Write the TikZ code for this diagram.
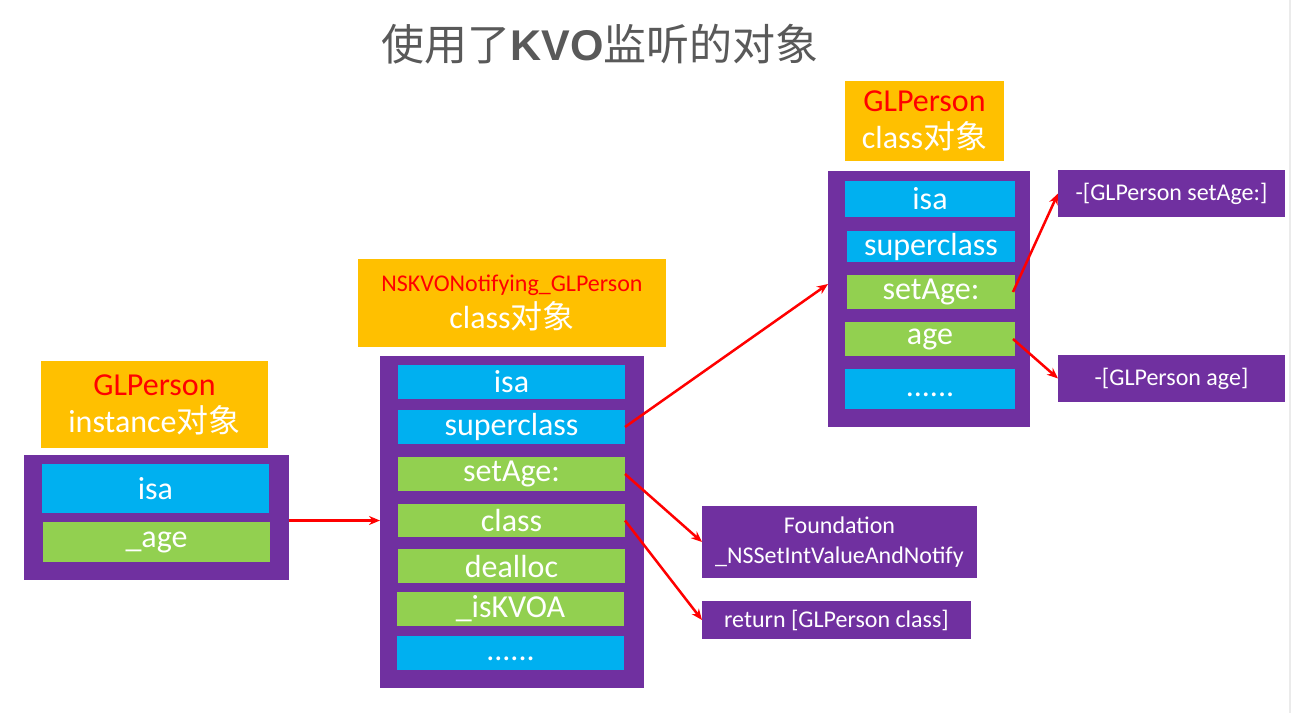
\documentclass[tikz,border=0pt]{standalone}
\usepackage{fontspec}
\setmainfont{Carlito}
\newfontfamily\cjk{Noto Sans CJK SC}
\newfontfamily\arialf{Liberation Sans}
\usetikzlibrary{arrows.meta}
\definecolor{korange}{HTML}{FFC000}
\definecolor{kpurple}{HTML}{7030A0}
\definecolor{kblue}{HTML}{00B0F0}
\definecolor{kgreen}{HTML}{92D050}
\definecolor{kred}{HTML}{FF0000}
\definecolor{ktitle}{HTML}{595959}
\tikzset{
  box/.style={inner sep=0pt, outer sep=0pt, text=white},
  lbl/.style={box, fill=korange, align=center, font=\fontsize{32}{37}\selectfont},
  frame/.style={box, fill=kpurple},
  bluerow/.style={box, fill=kblue, font=\fontsize{32}{36}\selectfont},
  greenrow/.style={box, fill=kgreen, font=\fontsize{32}{36}\selectfont},
  method/.style={box, fill=kpurple, align=center, font=\fontsize{24}{30}\selectfont},
  link/.style={draw=kred, line width=2.5pt, -{Stealth[length=11pt,width=9pt]}},
}
\newcommand{\lowdots}{\raisebox{-7pt}[0pt][0pt]{......}}
\begin{document}
\begin{tikzpicture}[x=1pt,y=-1pt]
\useasboundingbox (0,0) rectangle (1291,713);
\fill[white] (0,0) rectangle (1291,713);
\draw[black!8, line width=2pt] (1290,0) -- (1290,713);

% title
\node[text=ktitle, font=\fontsize{43}{48}\selectfont, inner sep=0pt] (title) at (600,44)
  {\cjk 使用了\arialf\bfseries KVO\cjk\mdseries 监听的对象};

% left: instance
\node[lbl, minimum width=227pt, minimum height=87pt] (lorange) at (154.5,404.5)
  {{\color{kred}GLPerson}\\instance{\cjk 对象}};
\node[frame, minimum width=265pt, minimum height=125pt] (lpurple) at (156.5,517.5) {};
\node[bluerow, minimum width=227pt, minimum height=49pt] (lisa) at (155.5,488.5) {isa};
\node[greenrow, minimum width=227pt, minimum height=40pt] (lage) at (156.5,542) {\_age};

% middle: NSKVONotifying class
\node[lbl, minimum width=308pt, minimum height=88pt] (morange) at (512,303)
  {{\fontsize{24}{30}\selectfont\color{kred}NSKVONotifying\_GLPerson}\\class{\cjk 对象}};
\node[frame, minimum width=264pt, minimum height=332pt] (mpurple) at (512,522) {};
\node[bluerow, minimum width=227pt, minimum height=34pt] (misa) at (511.5,382) {isa};
\node[bluerow, minimum width=227pt, minimum height=34pt] (msuper) at (511.5,427) {superclass};
\node[greenrow, minimum width=227pt, minimum height=34pt] (msetage) at (511.5,474) {setAge:};
\node[greenrow, minimum width=227pt, minimum height=33pt] (mclass) at (511.5,520.5) {class};
\node[greenrow, minimum width=227pt, minimum height=34pt] (mdealloc) at (511.5,566) {dealloc};
\node[greenrow, minimum width=227pt, minimum height=34pt] (misk) at (510.5,609) {\_isKVOA};
\node[bluerow, minimum width=227pt, minimum height=34pt] (mdots) at (510.5,653) {\lowdots};

% right: GLPerson class
\node[lbl, minimum width=159pt, minimum height=80pt] (rorange) at (924.5,121)
  {{\color{kred}GLPerson}\\class{\cjk 对象}};
\node[frame, minimum width=202pt, minimum height=256pt] (rpurple) at (929,299) {};
\node[bluerow, minimum width=170pt, minimum height=36pt] (risa) at (930,199) {isa};
\node[bluerow, minimum width=168pt, minimum height=31pt] (rsuper) at (931,246.5) {superclass};
\node[greenrow, minimum width=168pt, minimum height=34pt] (rsetage) at (931,292) {setAge:};
\node[greenrow, minimum width=170pt, minimum height=34pt] (rage) at (930,339) {age};
\node[bluerow, minimum width=170pt, minimum height=40pt] (rdots) at (930,389) {\lowdots};

% method boxes
\node[method, minimum width=227pt, minimum height=47pt] (msa) at (1171.5,193.5) {-[GLPerson setAge:]};
\node[method, minimum width=227pt, minimum height=47pt] (mage) at (1171.5,378.5) {-[GLPerson age]};
\node[method, minimum width=275pt, minimum height=72pt] (found) at (839.5,542) {Foundation\\\_NSSetIntValueAndNotify};
\node[method, minimum width=269pt, minimum height=38pt] (ret) at (836.5,620) {return [GLPerson class]};

% arrows
\draw[link] ([yshift=-3pt]lpurple.east) -- ([yshift=-3pt]lpurple.east -| mpurple.west);
\draw[link] (msuper.east) -- ([yshift=15pt]rpurple.west);
\draw[link] (msetage.east) -- (found.west);
\draw[link] (mclass.east) -- (ret.west);
\draw[link] ([xshift=-2pt]rsetage.east) -- (msa.west);
\draw[link] ([xshift=-2pt]rage.east) -- (mage.west);
\end{tikzpicture}
\end{document}
